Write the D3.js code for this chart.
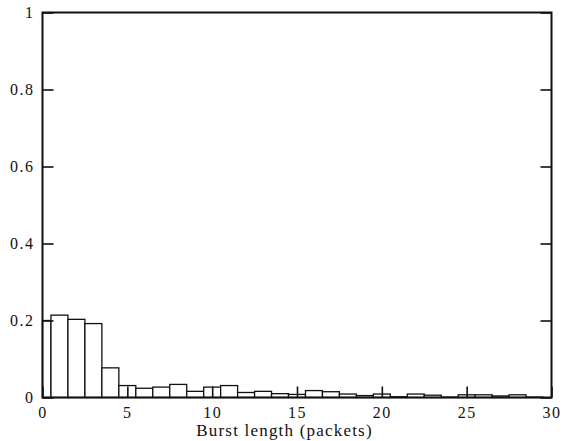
<!DOCTYPE html>
<html>
<head>
<meta charset="utf-8">
<script src="https://cdn.jsdelivr.net/npm/d3@7"></script>
<style>
  body { margin: 0; background: #fff; }
  svg text { font-family: "Liberation Serif", "DejaVu Serif", serif; fill: #111; }
</style>
</head>
<body>
<div id="chart"></div>
<script>
// burst length bins (packets) and observed frequency
const burstLengths = [0, 1, 2, 3, 4, 5, 6, 7, 8, 9, 10, 11, 12, 13, 14, 15, 16, 17, 18, 19, 20, 21, 22, 23, 24, 25, 26, 27, 28, 29];
const frequency = [0.200, 0.214, 0.203, 0.192, 0.077, 0.031, 0.024, 0.027, 0.034, 0.016,
                   0.027, 0.031, 0.013, 0.016, 0.010, 0.008, 0.018, 0.015, 0.009, 0.005,
                   0.009, 0.002, 0.009, 0.006, 0.001, 0.007, 0.007, 0.004, 0.007, 0.001];
const xTicks = [0, 5, 10, 15, 20, 25, 30];
const yTicks = [0, 0.2, 0.4, 0.6, 0.8, 1];

const margin = {top: 12.5, right: 20.5, bottom: 43.5, left: 42.5};
const width = 572 - margin.left - margin.right;
const height = 441 - margin.top - margin.bottom;

const data = burstLengths.map((b, i) => ({len: b, value: frequency[i]}));

const svg = d3.select('#chart')
    .append('svg')
    .attr('width', 572)
    .attr('height', 441)
    .append('g')
    .attr('transform', `translate(${margin.left},${margin.top})`);

const x = d3.scaleLinear()
    .domain([0, 30])
    .range([0, width]);

const y = d3.scaleLinear()
    .domain([0, 1])
    .range([height, 0]);

// Bars (bins centred on integers, first one clipped at 0)
svg.selectAll('.bar')
    .data(data)
    .enter()
    .append('rect')
    .attr('class', 'bar')
    .attr('x', d => x(Math.max(0, d.len - 0.5)))
    .attr('width', d => x(d.len + 0.5) - x(Math.max(0, d.len - 0.5)))
    .attr('y', d => y(d.value))
    .attr('height', d => y(0) - y(d.value))
    .attr('fill', '#fff')
    .attr('stroke', '#111')
    .attr('stroke-width', 1.3);

// Axes with inward ticks
const tickLen = 11;

svg.append('g')
    .attr('transform', `translate(0,${height})`)
    .call(d3.axisBottom(x).tickValues(xTicks).tickSizeInner(-tickLen).tickSizeOuter(0).tickPadding(9))
    .call(g => g.select('.domain').remove())
    .call(g => g.selectAll('text').attr('font-size', 16).attr('letter-spacing', 1.5));

svg.append('g')
    .call(d3.axisLeft(y).tickValues(yTicks).tickFormat(d3.format('~g')).tickSizeInner(-tickLen).tickSizeOuter(0).tickPadding(8))
    .call(g => g.select('.domain').remove())
    .call(g => g.selectAll('text').attr('font-size', 16).attr('letter-spacing', 1.5));

svg.append('g')
    .attr('transform', `translate(${width},0)`)
    .call(d3.axisRight(y).tickValues(yTicks).tickSizeInner(-tickLen).tickSizeOuter(0).tickFormat(''))
    .call(g => g.select('.domain').remove());

svg.selectAll('.tick line')
    .attr('stroke', '#111')
    .attr('stroke-width', 1.6);

// Frame
svg.append('rect')
    .attr('x', 0)
    .attr('y', 0)
    .attr('width', width)
    .attr('height', height)
    .attr('fill', 'none')
    .attr('stroke', '#111')
    .attr('stroke-width', 2);

svg.append('text')
    .attr('x', width / 2 - 12.5)
    .attr('y', height + 38.5)
    .attr('text-anchor', 'middle')
    .attr('font-size', 17)
    .attr('letter-spacing', 1.2)
    .text('Burst length (packets)');
</script>
</body>
</html>
